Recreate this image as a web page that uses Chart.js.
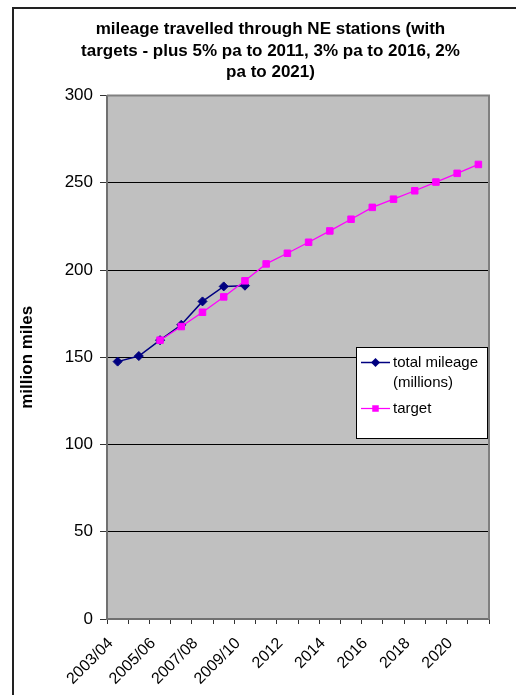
<!DOCTYPE html>
<html>
<head>
<meta charset="utf-8">
<script src="https://cdn.jsdelivr.net/npm/chart.js@4/dist/chart.umd.min.js"></script>
<style>
  html, body { margin: 0; padding: 0; background: #fff; overflow: hidden; }
  #wrap { width: 516px; height: 695px; }
</style>
</head>
<body>
<div id="wrap"><canvas id="c" width="516" height="695"></canvas></div>
<script>
// Financial years / years along the x axis
const categories = ['2003/04', '2004/05', '2005/06', '2006/07', '2007/08', '2008/09', '2009/10',
  '2011', '2012', '2013', '2014', '2015', '2016', '2017', '2018', '2019', '2020', '2021'];

// Actual mileage travelled (million miles)
const mileage = [147.5, 150.7, 159.8, 168.6, 182.0, 190.6, 191.0,
  null, null, null, null, null, null, null, null, null, null, null];

// Target mileage (million miles)
const target = [null, null, 159.8, 167.6, 175.8, 184.6, 193.8, 203.5, 209.6, 215.9,
  222.4, 229.1, 235.9, 240.6, 245.4, 250.4, 255.4, 260.5];

// Value axis ticks
const yTicks = [0, 50, 100, 150, 200, 250, 300];

const titleLines = [
  'mileage travelled through NE stations (with',
  'targets - plus 5% pa to 2011, 3% pa to 2016, 2%',
  'pa to 2021)'
];

const FONT = '"Liberation Sans", Arial, sans-serif';

// Grey plot area, its border and the outer chart frame
const plotFrame = {
  id: 'plotFrame',
  beforeDraw(chart) {
    const { ctx, chartArea: a } = chart;
    ctx.save();
    ctx.fillStyle = '#fff';
    ctx.fillRect(0, 0, chart.width, chart.height);
    ctx.strokeStyle = '#222';
    ctx.lineWidth = 2;
    ctx.beginPath();
    ctx.moveTo(13, chart.height + 2);
    ctx.lineTo(13, 8);
    ctx.lineTo(chart.width + 2, 8);
    ctx.stroke();
    ctx.fillStyle = '#C0C0C0';
    ctx.fillRect(a.left, a.top, a.right - a.left, a.bottom - a.top);
    ctx.restore();
  },
  beforeDatasetsDraw(chart) {
    const { ctx, chartArea: a } = chart;
    ctx.save();
    ctx.strokeStyle = '#808080';
    ctx.lineWidth = 2;
    ctx.beginPath();
    ctx.moveTo(a.left, a.top);
    ctx.lineTo(a.right, a.top);
    ctx.lineTo(a.right, a.bottom);
    ctx.stroke();
    ctx.restore();
  }
};

// Boxed legend inside the plot area, with wrapped labels
const boxLegend = {
  id: 'boxLegend',
  afterDraw(chart) {
    const { ctx } = chart;
    const bx = 356.5, by = 347.5, bw = 131, bh = 91;
    ctx.save();
    ctx.fillStyle = '#fff';
    ctx.fillRect(bx, by, bw, bh);
    ctx.strokeStyle = '#000';
    ctx.lineWidth = 1;
    ctx.strokeRect(bx, by, bw, bh);
    ctx.font = '15px ' + FONT;
    ctx.textBaseline = 'middle';
    ctx.textAlign = 'left';
    const textX = 393, maxW = bx + bw - textX - 2;
    let y = 362.5;
    chart.data.datasets.forEach(ds => {
      // wrap the label into lines
      const words = ds.label.split(' ');
      const lines = [];
      let cur = '';
      words.forEach(w => {
        const t = cur ? cur + ' ' + w : w;
        if (ctx.measureText(t).width > maxW && cur) { lines.push(cur); cur = w; } else { cur = t; }
      });
      lines.push(cur);
      ctx.strokeStyle = ds.borderColor;
      ctx.lineWidth = ds.borderWidth;
      ctx.beginPath();
      ctx.moveTo(361, y);
      ctx.lineTo(390, y);
      ctx.stroke();
      ctx.fillStyle = ds.backgroundColor;
      const cx = 375.5;
      ctx.beginPath();
      if (ds.pointStyle === 'rectRot') {
        const r = ds.pointRadius;
        ctx.moveTo(cx, y - r); ctx.lineTo(cx + r, y); ctx.lineTo(cx, y + r); ctx.lineTo(cx - r, y);
        ctx.closePath();
      } else {
        const s = ds.pointRadius * Math.SQRT1_2;
        ctx.rect(cx - s, y - s, 2 * s, 2 * s);
      }
      ctx.fill();
      ctx.fillStyle = '#000';
      lines.forEach((ln, i) => ctx.fillText(ln, textX, y + i * 20.5));
      y += lines.length * 20.5 + 5;
    });
    ctx.restore();
  }
};

new Chart(document.getElementById('c'), {
  type: 'line',
  data: {
    labels: categories,
    datasets: [
      {
        label: 'total mileage (millions)',
        data: mileage,
        borderColor: '#000080',
        backgroundColor: '#000080',
        borderWidth: 1.5,
        pointStyle: 'rectRot',
        pointRadius: 4.5,
        pointBorderWidth: 1,
        tension: 0,
        order: 1
      },
      {
        label: 'target',
        data: target,
        borderColor: '#FF00FF',
        backgroundColor: '#FF00FF',
        borderWidth: 1.25,
        pointStyle: 'rect',
        pointRadius: 4.6,
        pointBorderWidth: 1,
        tension: 0,
        order: 0
      }
    ]
  },
  options: {
    responsive: false,
    devicePixelRatio: 1,
    animation: false,
    layout: { padding: { left: 52, right: 27, top: 0, bottom: 0 } },
    plugins: {
      legend: { display: false },
      tooltip: { enabled: false },
      title: {
        display: true,
        text: titleLines,
        color: '#000',
        font: { family: FONT, size: 17, weight: 'bold', lineHeight: 1.265 },
        padding: { top: 19, bottom: 12 }
      }
    },
    scales: {
      x: {
        type: 'category',
        offset: true,
        grid: {
          offset: true,
          drawOnChartArea: false,
          drawTicks: true,
          tickLength: 5,
          tickColor: '#333',
          tickWidth: 1
        },
        border: { color: '#707070', width: 2 },
        ticks: {
          autoSkip: false,
          minRotation: 45,
          maxRotation: 45,
          padding: 10,
          labelOffset: -7,
          color: '#000',
          font: { family: FONT, size: 16 },
          callback(v, i) { return i % 2 === 0 ? this.getLabelForValue(v) : ''; }
        },
        afterFit(s) { s.height = 76; }
      },
      y: {
        min: 0,
        max: 300,
        afterBuildTicks(s) { s.ticks = yTicks.map(v => ({ value: v })); },
        ticks: {
          padding: 7,
          color: '#000',
          font: { family: FONT, size: 17 }
        },
        grid: {
          color: c => (c.tick && c.tick.value === 300) ? 'rgba(0,0,0,0)' : '#000',
          lineWidth: 1,
          tickLength: 7,
          tickColor: '#333',
          tickWidth: 1
        },
        border: { color: '#707070', width: 2 },
        title: {
          display: true,
          text: 'million miles',
          color: '#000',
          font: { family: FONT, size: 17, weight: 'bold' },
          padding: { top: -34.7, bottom: 0 }
        },
        afterFit(s) { s.width = 55; }
      }
    }
  },
  plugins: [plotFrame, boxLegend]
});
</script>
</body>
</html>
